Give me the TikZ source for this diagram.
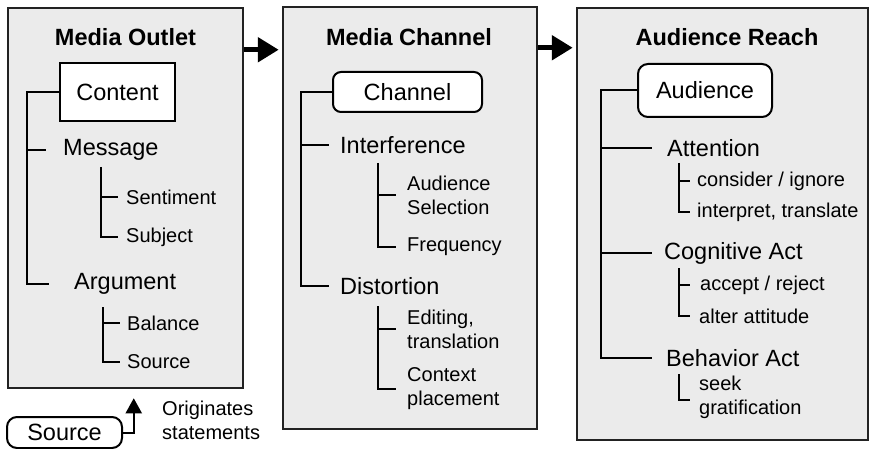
\documentclass[tikz,border=0pt]{standalone}
\usepackage{fontspec}
\setmainfont{Liberation Sans}
\usetikzlibrary{positioning,calc,arrows.meta}

\definecolor{panelgray}{HTML}{EBEBEB}
\definecolor{edgegray}{HTML}{222222}

\begin{document}
\begin{tikzpicture}[x=1pt, y=-1pt,
    panel/.style={draw=edgegray, line width=2.5pt, fill=panelgray},
    heading/.style={font=\fontsize{23.5}{28}\selectfont\bfseries},
    headbox/.style={draw=black, line width=2pt, fill=white, font=\fontsize{23.5}{28}\selectfont},
    lvlone/.style={anchor=west, inner sep=0pt, font=\fontsize{23.5}{28}\selectfont},
    lvltwo/.style={anchor=west, inner sep=0pt, align=left, font=\fontsize{20}{24}\selectfont},
    treeline/.style={line width=2pt, black},
    stagearrow/.style={line width=5.5pt, black, -{Triangle[length=21pt,width=24pt]}, shorten >=3pt}]
    \useasboundingbox (0,0) rectangle (872,449);

    % Stage panels
    \node[panel, minimum width=235pt, minimum height=380pt] (outlet) at (125.5,198) {};
    \node[panel, minimum width=254pt, minimum height=422pt] (channel) at (410,218) {};
    \node[panel, minimum width=291pt, minimum height=432pt] (reach) at (722.5,224) {};

    \node[heading] (outlet-title) at (125.5,37) {Media Outlet};
    \node[heading] (channel-title) at (409,37) {Media Channel};
    \node[heading] (reach-title) at (727,37) {Audience Reach};

    % Stage arrows
    \draw[stagearrow] ($(outlet.north east)+(0,43)$) -- ($(channel.north west)+(0,44)$);
    \draw[stagearrow] ($(channel.north east)+(0,42)$) -- ($(reach.north west)+(0,41)$);

    % Media outlet tree
    \node[headbox, minimum width=115pt, minimum height=58pt] (content) at (117.5,92) {Content};
    \coordinate (o-trunk) at (27,92);
    \node[lvlone] (message) at (63,150) {Message};
    \node[lvltwo] (sentiment) at (126,197) {Sentiment};
    \node[lvltwo] (subject) at (126,237) {Subject};
    \node[lvlone] (argument) at (74,284) {Argument};
    \node[lvltwo] (balance) at (127,323) {Balance};
    \node[lvltwo] (source-item) at (127,362) {Source};

    \draw[treeline] (content.west) -- (o-trunk) |- ($(argument.west)+(-25,0)$);
    \draw[treeline] (o-trunk |- message) -- ($(message.west)+(-17,0)$);
    \coordinate (m-trunk) at (101,167);
    \draw[treeline] (m-trunk) |- ($(subject.west)+(-8,0)$);
    \draw[treeline] (m-trunk |- sentiment) -- ($(sentiment.west)+(-8,0)$);
    \coordinate (a-trunk) at (103,307);
    \draw[treeline] (a-trunk) |- ($(source-item.west)+(-7,0)$);
    \draw[treeline] (a-trunk |- balance) -- ($(balance.west)+(-7,0)$);

    % Media channel tree
    \node[headbox, rounded corners=8pt, minimum width=149pt, minimum height=40pt] (chan) at (407.5,92) {Channel};
    \coordinate (c-trunk) at (301,92);
    \node[lvlone] (interference) at (340,145) {Interference};
    \node[lvltwo] (selection) at (407,195) {Audience\\Selection};
    \node[lvltwo] (frequency) at (407,247) {Frequency};
    \node[lvlone] (distortion) at (340,286) {Distortion};
    \node[lvltwo] (editing) at (407,329) {Editing,\\translation};
    \node[lvltwo] (context) at (407,389) {Context\\placement};

    \draw[treeline] (chan.west) -- (c-trunk) |- ($(distortion.west)+(-11,0)$);
    \draw[treeline] (c-trunk |- interference) -- ($(interference.west)+(-11,0)$);
    \coordinate (i-trunk) at (378,163);
    \draw[treeline] (i-trunk) |- ($(frequency.west)+(-11,0)$);
    \draw[treeline] (i-trunk |- selection) -- ($(selection.west)+(-11,0)$);
    \coordinate (d-trunk) at (378,306);
    \draw[treeline] (d-trunk) |- ($(context.west)+(-11,0)$);
    \draw[treeline] (d-trunk |- editing) -- ($(editing.west)+(-11,0)$);

    % Audience reach tree
    \node[headbox, rounded corners=10pt, minimum width=134pt, minimum height=53pt] (aud) at (705,90.5) {Audience};
    \coordinate (r-trunk) at (601,90.5);
    \node[lvlone] (attention) at (667,148) {Attention};
    \node[lvltwo] (consider) at (697,181) {consider / ignore};
    \node[lvltwo] (interpret) at (697,212) {interpret, translate};
    \node[lvlone] (cognitive) at (664,253) {Cognitive Act};
    \node[lvltwo] (accept) at (700,285) {accept / reject};
    \node[lvltwo] (alter) at (699,316) {alter attitude};
    \node[lvlone] (behavior) at (666,358) {Behavior Act};
    \node[lvltwo] (seek) at (699,397) {seek\\gratification};

    \draw[treeline] (aud.west) -- (r-trunk) |- ($(behavior.west)+(-14,0)$);
    \draw[treeline] (r-trunk |- attention) -- ($(attention.west)+(-15,0)$);
    \draw[treeline] (r-trunk |- cognitive) -- ($(cognitive.west)+(-12,0)$);
    \coordinate (at-trunk) at (679,163);
    \draw[treeline] (at-trunk) |- ($(interpret.west)+(-7,0)$);
    \draw[treeline] (at-trunk |- consider) -- ($(consider.west)+(-7,0)$);
    \coordinate (co-trunk) at (679,268);
    \draw[treeline] (co-trunk) |- ($(alter.west)+(-9,0)$);
    \draw[treeline] (co-trunk |- accept) -- ($(accept.west)+(-10,0)$);
    \coordinate (be-trunk) at (679,374);
    \draw[treeline] (be-trunk) |- ($(seek.west)+(-9,3)$);

    % Source of statements
    \node[headbox, rounded corners=10pt, minimum width=115pt, minimum height=31pt] (source) at (64.5,432.5) {Source};
    \draw[treeline, -{Triangle[length=15pt,width=16pt]}] (source.east) -| ($(outlet.south west)+(127,9)$);
    \node[lvltwo] (originates) at (162,420) {Originates\\statements};
\end{tikzpicture}
\end{document}
